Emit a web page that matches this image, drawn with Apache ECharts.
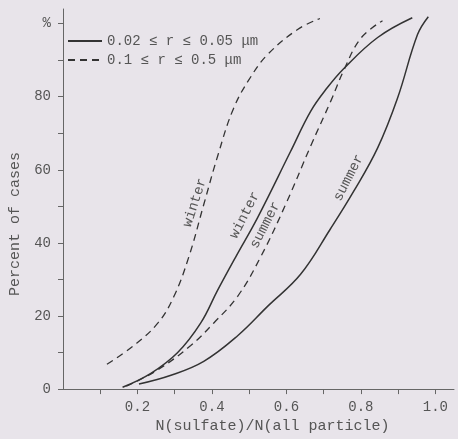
<!DOCTYPE html>
<html>
<head>
<meta charset="utf-8">
<script src="https://cdn.jsdelivr.net/npm/echarts@6/dist/echarts.min.js"></script>
<style>html,body{margin:0;padding:0;background:#e8e4ea}</style>
</head>
<body>
<div id="chart" style="width:458px;height:439px;"></div>
<script>
// cumulative percent of cases vs N(sulfate)/N(all particle)
const smallName = '0.02 \u2264 r \u2264 0.05 \u03bcm'
const largeName = '0.1 \u2264 r \u2264 0.5 \u03bcm'

const winterSmall = [[0.16, 0.5], [0.236, 4.3], [0.308, 10], [0.37, 18.1], [0.415, 27], [0.464, 36.2],
  [0.523, 47], [0.611, 65], [0.665, 76], [0.71, 82.5], [0.753, 87.6], [0.845, 96.2], [0.938, 101.6]]
const summerSmall = [[0.204, 1.4], [0.29, 3.8], [0.378, 7.6], [0.469, 14.6], [0.55, 22.7], [0.638, 31.4],
  [0.718, 43.8], [0.78, 54], [0.845, 66], [0.898, 79.5], [0.952, 97], [0.981, 101.9]]
const winterLarge = [[0.118, 6.8], [0.19, 11.9], [0.255, 18.1], [0.298, 25.4], [0.338, 36.2], [0.378, 50.5],
  [0.416, 64], [0.458, 76.8], [0.504, 85.4], [0.55, 91.6], [0.63, 98.4], [0.69, 101.4]]
const summerLarge = [[0.17, 0.8], [0.25, 5], [0.343, 11.9], [0.405, 18.1], [0.469, 25.4], [0.531, 36.2],
  [0.6, 51], [0.665, 66.5], [0.72, 79], [0.753, 87], [0.8, 96], [0.858, 100.8]]

const xTicks = [0.1, 0.2, 0.3, 0.4, 0.5, 0.6, 0.7, 0.8, 0.9, 1.0]
const xLabels = [0.2, 0.4, 0.6, 0.8, 1.0]
const yTicks = [0, 10, 20, 30, 40, 50, 60, 70, 80, 90, 100]
const yLabels = [0, 20, 40, 60, 80, 100]

// curve names written along the lines
const curveTags = [
  {text: 'winter', coord: [0.354, 51], angle: 72},
  {text: 'winter', coord: [0.488, 47.6], angle: 63},
  {text: 'summer', coord: [0.543, 44.9], angle: 63},
  {text: 'summer', coord: [0.767, 57.8], angle: 63}
]

const font = 'Liberation Mono, DejaVu Sans Mono, monospace'
const ink = '#555'
const lineInk = '#333'

function tag(i) {
  let t = curveTags[i]
  return {
    symbol: 'circle',
    symbolSize: 1,
    silent: true,
    itemStyle: {color: 'rgba(0,0,0,0)'},
    data: [{
      coord: t.coord,
      label: {show: true, formatter: t.text, rotate: t.angle, position: 'inside',
        fontFamily: font, fontSize: 14, color: ink}
    }]
  }
}

function curve(name, data, dashed, tagIndex) {
  return {
    name: name,
    type: 'line',
    data: data,
    smooth: 0.4,
    symbol: 'none',
    lineStyle: {color: lineInk, width: dashed ? 1.3 : 1.5, type: dashed ? [7, 5] : 'solid'},
    itemStyle: {color: lineInk},
    markPoint: tag(tagIndex)
  }
}

let chart = echarts.init(document.getElementById('chart'))
let option = {
  animation: false,
  backgroundColor: '#e8e4ea',
  grid: {left: 62, right: 4, top: 9, bottom: 45},
  legend: {
    orient: 'vertical',
    left: 62,
    top: 29,
    itemWidth: 34,
    itemHeight: 10,
    itemGap: 5,
    data: [smallName, largeName],
    itemStyle: {opacity: 0},
    textStyle: {fontFamily: font, fontSize: 14, color: ink}
  },
  xAxis: {
    type: 'value',
    min: 0,
    max: 1.05,
    name: 'N(sulfate)/N(all particle)',
    nameLocation: 'middle',
    nameGap: 16,
    nameTextStyle: {fontFamily: font, fontSize: 15, color: ink, padding: [0, 0, 0, 28]},
    axisLine: {lineStyle: {color: '#666'}},
    axisTick: {customValues: xTicks, length: 5, lineStyle: {color: '#666'}},
    axisLabel: {customValues: xLabels, margin: 11, fontFamily: font, fontSize: 14, color: ink,
      formatter: v => v.toFixed(1)},
    splitLine: {show: false}
  },
  yAxis: {
    type: 'value',
    min: 0,
    max: 104,
    name: 'Percent of cases',
    nameLocation: 'middle',
    nameGap: 40,
    nameTextStyle: {fontFamily: font, fontSize: 15, color: ink, padding: [0, 50, 0, 0]},
    axisLine: {show: true, lineStyle: {color: '#666'}},
    axisTick: {show: true, customValues: yTicks, length: 5, lineStyle: {color: '#666'}},
    axisLabel: {customValues: yLabels, margin: 12, fontFamily: font, fontSize: 14, color: ink,
      formatter: v => v === 100 ? '%' : String(v)},
    splitLine: {show: false}
  },
  series: [
    curve(smallName, winterSmall, false, 1),
    curve(smallName, summerSmall, false, 3),
    curve(largeName, winterLarge, true, 0),
    curve(largeName, summerLarge, true, 2)
  ]
}
chart.setOption(option)
</script>
</body>
</html>
